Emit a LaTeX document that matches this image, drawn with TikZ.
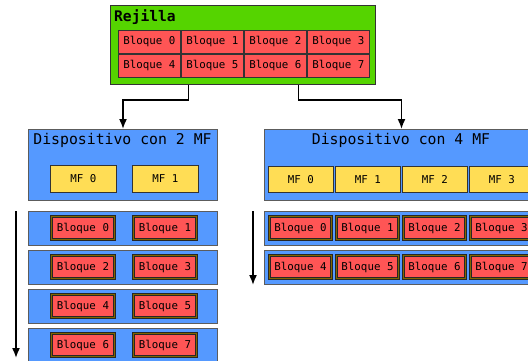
\documentclass[tikz,border=0pt]{standalone}
\usepackage{fontspec}
\setmonofont{DejaVu Sans Mono}
\usetikzlibrary{arrows.meta,calc}
\definecolor{gridgreen}{HTML}{55D400}
\definecolor{blockred}{HTML}{FF5555}
\definecolor{devblue}{HTML}{5599FF}
\definecolor{mfyellow}{HTML}{FFDD55}
\definecolor{edge}{HTML}{333333}
\definecolor{blockrim}{HTML}{806600}
\begin{document}
\begin{tikzpicture}[x=1pt,y=-1pt,
  box/.style={draw=edge, line width=0.8pt, inner sep=0pt, anchor=north west},
  gridbox/.style={box, fill=gridgreen},
  devbox/.style={box, fill=devblue, line width=1pt, draw=edge!80},
  gridcell/.style={box, fill=blockred, minimum width=62pt, minimum height=23pt,
    font=\ttfamily\fontsize{10.8}{12}\selectfont},
  mfcell/.style={box, fill=mfyellow, minimum height=27pt,
    font=\ttfamily\fontsize{10.8}{12}\selectfont},
  runcell/.style={draw=black!85, double=blockrim, double distance=1.4pt, line width=0.6pt,
    fill=blockred, inner sep=0pt, anchor=center, minimum height=23pt,
    font=\ttfamily\fontsize{10.8}{12}\selectfont},
  devtitle/.style={font=\ttfamily\fontsize{14.8}{16}\selectfont, inner sep=0pt, anchor=center},
  conn/.style={line width=1.6pt, -{Latex[length=10pt,width=8pt]}}]
\useasboundingbox (0,0) rectangle (528,360);
\clip (0,0) rectangle (528,360);

% Grid with its eight blocks
\node[gridbox, minimum width=265pt, minimum height=79pt] (grid) at (110,5) {};
\node[anchor=base west, inner sep=0pt, font=\ttfamily\bfseries\fontsize{14.6}{16}\selectfont] (gridtitle) at (114,21) {Rejilla};
\foreach \i in {0,...,7}{
  \pgfmathtruncatemacro{\col}{mod(\i,4)}
  \pgfmathtruncatemacro{\row}{int(\i/4)}
  \node[gridcell] (g\i) at (118+63*\col, 30+24*\row) {Bloque \i};
}

% Device with 2 multiprocessors
\node[devbox, minimum width=189pt, minimum height=71pt] (devA) at (28,129) {};
\node[devtitle] (devAtitle) at (122.5,140) {Dispositivo con 2 MF};
\foreach \c in {0,1}{
  \node[mfcell, minimum width=66pt] (mfA\c) at (50+82*\c,165) {MF \c};
}
\foreach \r in {0,...,3}{
  \node[devbox, minimum width=189pt, minimum height=34pt] (rowA\r) at (28,211+39*\r) {};
  \foreach \c in {0,1}{
    \pgfmathtruncatemacro{\b}{2*\r+\c}
    \node[runcell, minimum width=63pt] (rA\b) at (83+82*\c, 228+39*\r) {Bloque \b};
  }
}

% Device with 4 multiprocessors
\node[devbox, minimum width=274pt, minimum height=71pt] (devB) at (264,129) {};
\node[devtitle] (devBtitle) at (401,140) {Dispositivo con 4 MF};
\foreach \c in {0,...,3}{
  \node[mfcell, minimum width=65pt, minimum height=26pt] (mfB\c) at (268+67*\c,166) {MF \c};
}
\foreach \r in {0,1}{
  \node[devbox, minimum width=274pt, minimum height=34pt] (rowB\r) at (264,211+39*\r) {};
  \foreach \c in {0,...,3}{
    \pgfmathtruncatemacro{\b}{4*\r+\c}
    \node[runcell, minimum width=62pt] (rB\b) at (300.5+67*\c, 228+39*\r) {Bloque \b};
  }
}

% Distribution of the grid onto both devices
\draw[conn] ([xshift=-54.5pt]grid.south) -- ++(0,15) -| (devA.north);
\draw[conn] ([xshift=55.5pt]grid.south) -- ++(0,15) -| (devB.north);

% Time axes
\coordinate (tAend) at (16,358);
\draw[conn] ([xshift=-12pt]rowA0.north west) -- (tAend);
\draw[conn] ([xshift=-11pt]rowB0.north west) -- ([xshift=-11pt]rowB1.south west);
\end{tikzpicture}
\end{document}
